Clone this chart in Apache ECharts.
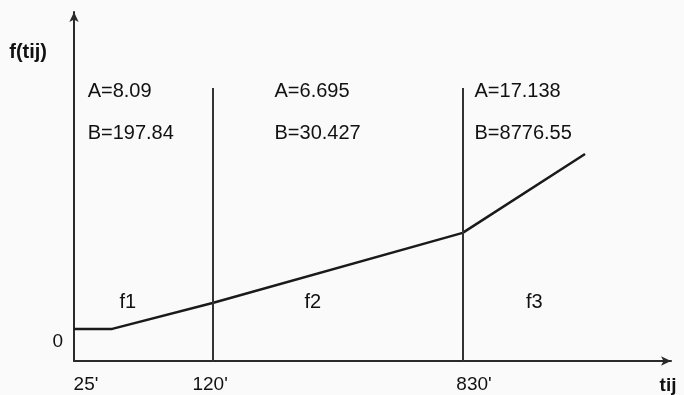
<!DOCTYPE html>
<html><head><meta charset="utf-8">
<script src="https://cdn.jsdelivr.net/npm/echarts@6/dist/echarts.min.js"></script>
<style>html,body{margin:0;padding:0;background:#fafafa}#c{width:684px;height:395px}</style>
</head><body><div id="c"></div>
<script>
// Schematic (non-linear) time axis: positions in axis units 0..100
const tickLabels = ["25'", "120'", "830'"];
const breakX = [23.2, 65.1];            // vertical separators at 120' and 830'
const lineX = [0, 6.4, 23.2, 65.1, 85.6];
const lineY = [9.2, 9.2, 16.6, 36.7, 59.3];
const aParams = ['8.09', '6.695', '17.138'];
const bParams = ['197.84', '30.427', '8776.55'];
const segNames = ['f1', 'f2', 'f3'];

// layout only
const labelX = [2.0, 22.8, 67.0];
const colX = [2.2, 33.5, 67.0];
const segX = [9.0, 40.0, 77.1];
const F = 'Liberation Sans, Arial, sans-serif';
const ink = '#111';

const annot = [];
for (let i = 0; i < 3; i++) {
  annot.push({ value: [colX[i], 77.1], name: 'A=' + aParams[i], label: { position: 'right' } });
  annot.push({ value: [colX[i], 65.3], name: 'B=' + bParams[i], label: { position: 'right' } });
  annot.push({ value: [segX[i], 16.9], name: segNames[i], label: { position: 'inside' } });
}

const chart = echarts.init(document.getElementById('c'), null, { renderer: 'canvas' });
chart.setOption({
  animation: false,
  backgroundColor: '#fafafa',
  grid: { left: 74, right: 13, top: 12, bottom: 34 },
  xAxis: {
    type: 'value', min: 0, max: 100,
    splitLine: { show: false },
    axisTick: { show: false },
    axisLine: { lineStyle: { color: '#2a2a2a', width: 2 }, symbol: ['none', 'arrow'], symbolSize: [7, 10] },
    axisLabel: {
      customValues: labelX, margin: 14,
      color: ink, fontSize: 19, fontFamily: F,
      formatter: (v) => { const i = labelX.findIndex(x => Math.abs(x - v) < 1e-6); return i >= 0 ? tickLabels[i] : ''; }
    },
    name: 'tij', nameLocation: 'end', nameGap: -3,
    nameTextStyle: { color: ink, fontSize: 19, fontWeight: 'bold', fontFamily: F, align: 'center', verticalAlign: 'top', padding: [15, 0, 0, 0] }
  },
  yAxis: {
    type: 'value', min: 0, max: 100,
    splitLine: { show: false },
    axisTick: { show: false },
    axisLine: { lineStyle: { color: '#2a2a2a', width: 2 }, symbol: ['none', 'arrow'], symbolSize: [7, 10] },
    axisLabel: { customValues: [5.4], margin: 11, color: ink, fontSize: 19, fontFamily: F, formatter: () => '0' },
    name: 'f(tij)', nameLocation: 'end', nameGap: -50,
    nameTextStyle: { color: ink, fontSize: 20, fontWeight: 'bold', fontFamily: F, align: 'right', padding: [0, 27, 0, 0] }
  },
  series: [
    {
      type: 'line',
      data: lineX.map((x, i) => [x, lineY[i]]),
      symbol: 'none',
      lineStyle: { color: '#1a1a1a', width: 2.5 },
      markLine: {
        silent: true, symbol: 'none', label: { show: false },
        lineStyle: { color: '#333', width: 2, type: 'solid' },
        data: breakX.map(x => [{ coord: [x, 0] }, { coord: [x, 78.2] }])
      }
    },
    {
      type: 'scatter',
      data: annot,
      symbolSize: 1,
      itemStyle: { color: 'rgba(0,0,0,0)', opacity: 1 },
      label: { show: true, formatter: '{b}', color: ink, fontSize: 20, fontFamily: F, distance: 0 }
    }
  ]
});
</script></body></html>
